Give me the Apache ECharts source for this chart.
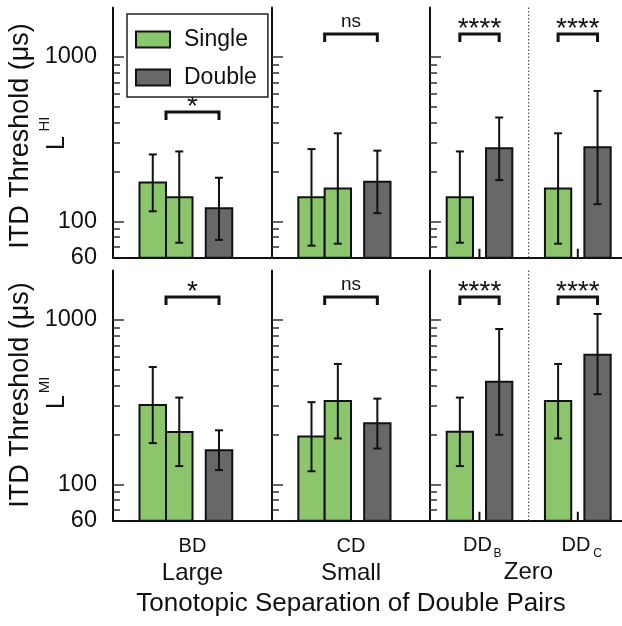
<!DOCTYPE html>
<html>
<head>
<meta charset="utf-8">
<script src="https://cdn.jsdelivr.net/npm/echarts@6/dist/echarts.min.js"></script>
<style>
  html, body { margin: 0; padding: 0; background: #fff; }
  #chart { width: 622px; height: 626px; }
</style>
</head>
<body>
<div id="chart"></div>
<script>
// ---- values (µs) ----
const pairs = ['BD', 'CD', 'DDB', 'DDC'];
const groupNames = ['Large', 'Small', 'Zero'];
const sigText = ['*', 'ns', '****', '****'];
const yTickLabels = [60, 100, 1000];
const majorTicks = [100, 1000];
const minorTicks = [70, 80, 90, 200, 300, 400, 500, 600, 700, 800, 900];

// L^HI  (BD/CD: Single, Single, Double; DD: Single, Double)
const hiBD = [172, 140, 120];
const hiBDErr = [[115, 255], [74, 266], [77, 184]];
const hiCD = [140, 158, 174];
const hiCDErr = [[71, 275], [73, 343], [112, 269]];
const hiDDB = [140, 278];
const hiDDBErr = [[74, 266], [178, 428]];
const hiDDC = [158, 282];
const hiDDCErr = [[73, 343], [127, 621]];
const hiSigY = [463, 1380, 1380, 1380];

// L^MI
const miBD = [304, 208, 161];
const miBDErr = [[178, 517], [129, 337], [122, 213]];
const miCD = [195, 321, 235];
const miCDErr = [[120, 316], [190, 540], [165, 332]];
const miDDB = [209, 420];
const miDDBErr = [[129, 337], [200, 881]];
const miDDC = [321, 615];
const miDDCErr = [[190, 540], [353, 1088]];
const miSigY = [1380, 1380, 1380, 1380];

// tiny residual marks next to the DD singles
const stubRange = [60, 68];

const rowsData = [
  { means: { BD: hiBD, CD: hiCD, DDB: hiDDB, DDC: hiDDC },
    errs: { BD: hiBDErr, CD: hiCDErr, DDB: hiDDBErr, DDC: hiDDCErr }, sig: hiSigY },
  { means: { BD: miBD, CD: miCD, DDB: miDDB, DDC: miDDC },
    errs: { BD: miBDErr, CD: miCDErr, DDB: miDDBErr, DDC: miDDCErr }, sig: miSigY }
];

// ---- layout / style ----
const FONT = "'Liberation Sans', Arial, Helvetica, sans-serif";
const GREEN = '#8cc66c';
const DARK = '#686868';
const INK = '#111';
const L = v => Math.log10(v);
const Y_MIN = L(60), Y_MAX = L(2000);

const gridLeft = [113, 272, 430];
const gridWidth = [159, 158, 192];
const xMax = [6, 6, 7.3];
const rowTop = [7.5, 270.5];
const rowHeight = 250.2;

const panelOf = { BD: 0, CD: 1, DDB: 2, DDC: 2 };
const pos = { BD: [1.5, 2.5, 4.0], CD: [1.5, 2.5, 4.0], DDB: [1.135, 2.63], DDC: [4.87, 6.37] };
const kinds = { BD: ['Single', 'Single', 'Double'], CD: ['Single', 'Single', 'Double'],
  DDB: ['Single', 'Double'], DDC: ['Single', 'Double'] };
const bracketSpan = { BD: [2, 4], CD: [2, 4], DDB: [1.135, 2.63], DDC: [4.87, 6.37] };
const stubPos = [1.88, 5.62];
const dividerPos = 3.75;

function barSeries(name, gi, pts, color) {
  return {
    type: 'custom', name, xAxisIndex: gi, yAxisIndex: gi * 2,
    data: pts, encode: { x: 0, y: 1 },
    renderItem: (params, api) => {
      const x = api.value(0);
      const tl = api.coord([x - 0.5, api.value(1)]);
      const br = api.coord([x + 0.5, Y_MIN]);
      return {
        type: 'rect',
        shape: { x: tl[0], y: tl[1], width: br[0] - tl[0], height: br[1] - tl[1] },
        style: { fill: color, stroke: INK, lineWidth: 2 }
      };
    }
  };
}

function errSeries(gi, pts) {
  return {
    type: 'custom', xAxisIndex: gi, yAxisIndex: gi * 2,
    data: pts, encode: { x: 0, y: [1, 2] }, z: 3,
    renderItem: (params, api) => {
      const x = api.value(0);
      const lo = api.coord([x, api.value(1)]);
      const hi = api.coord([x, api.value(2)]);
      const s = { stroke: INK, lineWidth: 2 };
      return {
        type: 'group', children: [
          { type: 'line', shape: { x1: lo[0], y1: lo[1], x2: hi[0], y2: hi[1] }, style: s },
          { type: 'line', shape: { x1: lo[0] - 4, y1: lo[1], x2: lo[0] + 4, y2: lo[1] }, style: s },
          { type: 'line', shape: { x1: hi[0] - 4, y1: hi[1], x2: hi[0] + 4, y2: hi[1] }, style: s }
        ]
      };
    }
  };
}

function bracketSeries(gi, pts, texts) {
  return {
    type: 'custom', xAxisIndex: gi, yAxisIndex: gi * 2,
    data: pts, encode: { x: [0, 1], y: 2 }, z: 3,
    renderItem: (params, api) => {
      const a = api.coord([api.value(0), api.value(2)]);
      const b = api.coord([api.value(1), api.value(2)]);
      const t = texts[params.dataIndex];
      const stars = t.indexOf('*') >= 0;
      return {
        type: 'group', children: [
          { type: 'polyline',
            shape: { points: [[a[0], a[1] + 8], a, b, [b[0], b[1] + 8]] },
            style: { fill: null, stroke: INK, lineWidth: 3 } },
          { type: 'text',
            style: { text: t, x: (a[0] + b[0]) / 2, y: a[1] - (stars ? 5 : 12),
              align: 'center', verticalAlign: 'middle',
              fontSize: stars ? 28 : 19, fontFamily: FONT, fill: INK } }
        ]
      };
    }
  };
}

function stubSeries(gi) {
  return {
    type: 'custom', xAxisIndex: gi, yAxisIndex: gi * 2,
    data: stubPos.map(x => [x, L(stubRange[0]), L(stubRange[1])]), encode: { x: 0, y: [1, 2] },
    renderItem: (params, api) => {
      const p0 = api.coord([api.value(0), api.value(1)]);
      const p1 = api.coord([api.value(0), api.value(2)]);
      return { type: 'line', shape: { x1: p0[0], y1: p0[1], x2: p1[0], y2: p1[1] },
        style: { stroke: INK, lineWidth: 2 } };
    }
  };
}

function dividerSeries(gi) {
  return {
    type: 'custom', xAxisIndex: gi, yAxisIndex: gi * 2,
    data: [[dividerPos]], encode: { x: 0 },
    renderItem: (params, api) => {
      const top = api.coord([api.value(0), Y_MAX]);
      const bot = api.coord([api.value(0), Y_MIN]);
      return { type: 'line', shape: { x1: top[0], y1: top[1], x2: bot[0], y2: bot[1] },
        style: { stroke: '#555', lineWidth: 1.2, lineDash: [1.5, 2] } };
    }
  };
}

const grid = [], xAxis = [], yAxis = [], series = [];
for (let r = 0; r < 2; r++) {
  for (let p = 0; p < 3; p++) {
    const gi = r * 3 + p;
    grid.push({ left: gridLeft[p], top: rowTop[r], width: gridWidth[p], height: rowHeight });
    xAxis.push({
      type: 'value', gridIndex: gi, min: 0, max: xMax[p],
      axisLine: { show: true, onZero: false, lineStyle: { color: INK, width: 2 } },
      axisTick: { show: false }, axisLabel: { show: false }, splitLine: { show: false }
    });
    yAxis.push({
      type: 'value', gridIndex: gi, position: 'left', min: Y_MIN, max: Y_MAX,
      axisLine: { show: true, onZero: false, lineStyle: { color: INK, width: 2 } },
      axisTick: { show: true, inside: true, length: 11, customValues: majorTicks.map(L),
        lineStyle: { color: '#333', width: 1.5 } },
      axisLabel: { show: p === 0, customValues: yTickLabels.map(L),
        formatter: v => String(Math.round(Math.pow(10, v))),
        margin: 16, fontSize: 23.5, color: INK, fontFamily: FONT },
      splitLine: { show: false }
    });
    yAxis.push({
      type: 'value', gridIndex: gi, position: 'left', min: Y_MIN, max: Y_MAX,
      axisLine: { show: false },
      axisTick: { show: true, inside: true, length: 7, customValues: minorTicks.map(L),
        lineStyle: { color: '#333', width: 1.5 } },
      axisLabel: { show: false }, splitLine: { show: false }
    });

    const row = rowsData[r];
    const keys = pairs.filter(k => panelOf[k] === p);
    ['Single', 'Double'].forEach(kind => {
      const pts = [];
      keys.forEach(k => row.means[k].forEach((v, i) => {
        if (kinds[k][i] === kind) pts.push([pos[k][i], L(v)]);
      }));
      series.push(barSeries(kind, gi, pts, kind === 'Single' ? GREEN : DARK));
    });
    if (p === 2) {
      series.push(stubSeries(gi));
      series.push(dividerSeries(gi));
    }
    const errs = [];
    keys.forEach(k => row.errs[k].forEach((e, i) => errs.push([pos[k][i], L(e[0]), L(e[1])])));
    series.push(errSeries(gi, errs));
    series.push(bracketSeries(gi,
      keys.map(k => [bracketSpan[k][0], bracketSpan[k][1], L(row.sig[pairs.indexOf(k)])]),
      keys.map(k => sigText[pairs.indexOf(k)])));
  }
}

const txt = (text, x, y, size, extra) => Object.assign({
  type: 'text', x, y,
  style: { text, x: 0, y: 0, align: 'center', verticalAlign: 'middle',
    fontSize: size, fontFamily: FONT, fill: INK }
}, extra || {});
const up = { rotation: Math.PI / 2 };

const graphic = [
  txt('ITD Threshold (μs)', 21, 136, 27, up),
  txt('L', 57.5, 143, 25, up),
  txt('HI', 44.5, 124, 15, up),
  txt('ITD Threshold (μs)', 21, 395, 27, up),
  txt('L', 57.5, 402, 25, up),
  txt('MI', 44.5, 385, 15, up),
  txt('BD', 192.5, 546, 20),
  txt('CD', 351, 546, 20),
  txt('DD', 477.5, 545, 20),
  txt('B', 497.5, 554, 12),
  txt('DD', 576, 545, 20),
  txt('C', 597.5, 554, 12),
  txt(groupNames[0], 192.5, 573, 24),
  txt(groupNames[1], 351, 573, 24),
  txt(groupNames[2], 528.5, 572, 24),
  txt('Tonotopic Separation of Double Pairs', 351, 604, 26)
];

const chart = echarts.init(document.getElementById('chart'), null, { renderer: 'canvas' });
chart.setOption({
  animation: false,
  backgroundColor: '#fff',
  grid, xAxis, yAxis, series, graphic,
  legend: {
    orient: 'vertical', left: 127, top: 14, selectedMode: false,
    icon: 'rect', itemWidth: 34, itemHeight: 16, itemGap: 15,
    padding: [14, 11, 8, 8],
    backgroundColor: '#fff', borderColor: '#222', borderWidth: 1.5, borderRadius: 0,
    textStyle: { fontSize: 23, color: INK, fontFamily: FONT, lineHeight: 16, padding: [0, 0, 0, 9] },
    data: [
      { name: 'Single', itemStyle: { color: GREEN, borderColor: INK, borderWidth: 2 } },
      { name: 'Double', itemStyle: { color: DARK, borderColor: INK, borderWidth: 2 } }
    ]
  }
});
</script>
</body>
</html>
